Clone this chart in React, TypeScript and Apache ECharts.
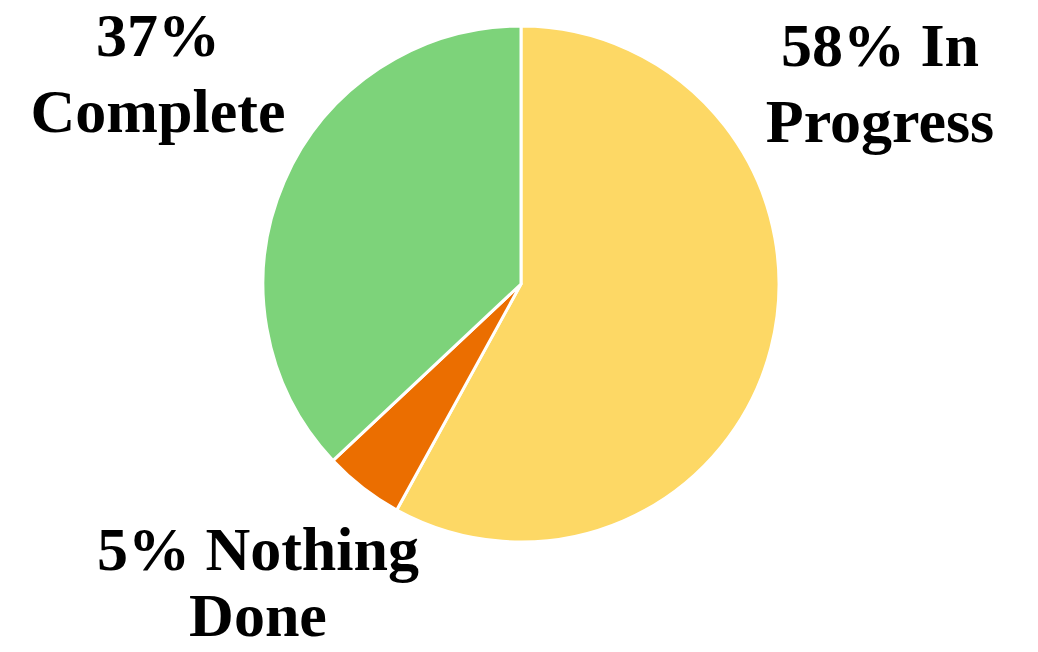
import React, { useEffect, useRef } from "react";
import * as echarts from "echarts";

const categories = ["In Progress", "Nothing Done", "Complete"];
const percents = [58, 5, 37];
const labelLines = [
  ["58% In", "Progress"],
  ["5% Nothing", "Done"],
  ["37%", "Complete"],
];
const sliceColors = ["#FDD865", "#EB6E00", "#7DD37A"];
// label anchor positions (layout only)
const labelAnchors = [
  { x: 880, y: 83, lh: 76 },
  { x: 258, y: 582, lh: 66 },
  { x: 158, y: 73, lh: 76 },
];

export default function App() {
  const ref = useRef<HTMLDivElement>(null);
  useEffect(() => {
    if (!ref.current) return;
    const chart = echarts.init(ref.current, null, { renderer: "svg" });
    chart.setOption({
      animation: false,
      backgroundColor: "#ffffff",
      series: [
        {
          type: "pie",
          center: [521, 284],
          radius: [0, 258],
          startAngle: 90,
          clockwise: true,
          avoidLabelOverlap: false,
          itemStyle: { borderColor: "#ffffff", borderWidth: 3 },
          labelLine: { show: false },
          label: {
            show: true,
            position: "outside",
            fontFamily: "Liberation Serif",
            fontWeight: "bold",
            fontSize: 62,
            color: "#000000",
            align: "center",
          },
          labelLayout: (params: any) => {
            const a = labelAnchors[params.dataIndex];
            return { x: a.x, y: a.y, align: "center", verticalAlign: "middle" };
          },
          data: categories.map((name, i) => ({
            name,
            value: percents[i],
            itemStyle: { color: sliceColors[i] },
            label: {
              formatter: labelLines[i].join("\n"),
              lineHeight: labelAnchors[i].lh,
            },
          })),
        },
      ],
    });
    return () => chart.dispose();
  }, []);
  return (
    <div
      ref={ref}
      style={{ position: "absolute", left: 0, top: 0, width: 1038, height: 652 }}
    />
  );
}
